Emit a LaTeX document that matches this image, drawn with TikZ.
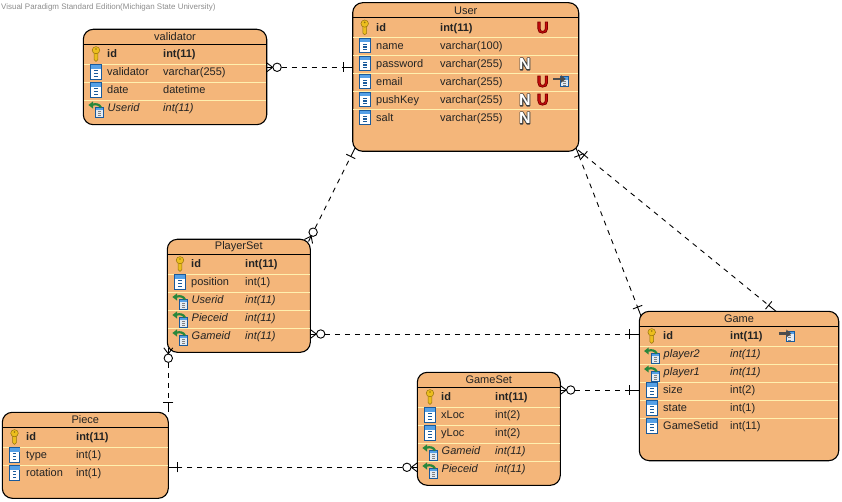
\documentclass[tikz,border=0pt]{standalone}
\usepackage{fontspec}
\setmainfont{Liberation Sans}
\usetikzlibrary{calc}
\definecolor{entfill}{RGB}{244,182,122}
\definecolor{rowline}{RGB}{255,240,175}
\definecolor{txt}{RGB}{35,35,35}
\definecolor{colblue}{RGB}{26,90,155}
\definecolor{colband}{RGB}{85,160,230}
\definecolor{keygold}{RGB}{236,190,30}
\definecolor{keyedge}{RGB}{150,115,15}
\definecolor{fkgreen}{RGB}{40,135,60}
\tikzset{
  x=1pt,y=-1pt,
  entity/.style={draw=black,fill=entfill,line width=1.1pt,rounded corners=10pt,inner sep=0pt,outer sep=0pt,anchor=north west},
  title/.style={inner sep=0pt,text=txt,font=\fontsize{11}{12}\selectfont},
  cell/.style={inner sep=0pt,anchor=base west,text=txt,font=\fontsize{11}{12}\selectfont},
  badge/.style={inner sep=0pt,font=\fontsize{16}{17}\selectfont\bfseries},
  dashline/.style={draw=black,line width=.9pt,dash pattern=on 5pt off 5pt},
  rel/.style={draw=black,line width=.9pt},
}
% entity box: name, x1, y1, x2, y2, title, number of dividers
\newcommand\entitybox[7]{%
  \path let \n1={#4-#2},\n2={#5-#3} in node[entity,minimum width=\n1 pt,minimum height=\n2 pt] (#1) at (#2,#3) {};
  \node[title] (#1Title) at ($(#1.north)+(0,7.6)$) {#6};
  \draw[black,line width=1pt] ($(#1.north west)+(0,15)$) -- ($(#1.north east)+(0,15)$);
  \foreach \k in {1,...,#7}{\draw[rowline,line width=1pt] ($(#1.north west)+(.6,{35+18*(\k-1)})$) -- ($(#1.north east)+(-.6,{35+18*(\k-1)})$);}
}
\newcommand\keyicon[2]{\begin{scope}[shift={(#1,#2)}]
  \fill[keygold,draw=keyedge,line width=.5pt] (-1.8,-2) -- (-1.8,5.8) -- (0,7.4) -- (1.8,5.8) -- (1.8,-2) -- cycle;
  \fill[keygold,draw=keyedge,line width=.5pt] (0,-3.8) ellipse[x radius=3.8pt,y radius=3.6pt];
  \fill[keyedge] (0,-5) circle[radius=.9pt];
\end{scope}}
\newcommand\colicon[2]{\begin{scope}[shift={(#1,#2)}]
  \fill[white,draw=colblue,line width=1pt] (-5.4,-7.2) rectangle (5.4,7.2);
  \fill[colband] (-5,-6.8) rectangle (5,-3);
  \foreach \q in {-1.2,1.6,4.4}{\fill[colblue] (-1.8,\q-.6) rectangle (1.8,\q+.6);}
\end{scope}}
\newcommand\minitable[2]{\begin{scope}[shift={(#1,#2)}]
  \fill[white!88!colblue] (-4,-5) rectangle (4,5);
  \fill[colband] (-4,-5) rectangle (4,-2);
  \draw[colblue,line width=.5pt] (-4,-5) rectangle (4,5);
  \foreach \q in {-.5,1.7,3.9}{\fill[gray] (-1.6,\q-.5) rectangle (1.6,\q+.5);}
\end{scope}}
\newcommand\fkicon[2]{\begin{scope}[shift={(#1,#2)}]
  \minitable{3.5}{3.8}
  \draw[fkgreen,line width=2.2pt] (-3.5,-3.3) .. controls (0,-4.4) and (3.5,-3.7) .. (5,-.4);
  \fill[fkgreen] (-7.6,-3) -- (-3,-6.6) -- (-3,.6) -- cycle;
\end{scope}}
\newcommand\refarrow[2]{\begin{scope}[shift={(#1,#2)}]
  \minitable{1.5}{.2}
  \draw[black!70,line width=2.6pt] (-9.5,-2.4) -- (-1,-2.4);
  \fill[black!70] (3,-2.4) -- (-2,-6.4) -- (-2,1.6) -- cycle;
\end{scope}}
\newcommand\pkrow[7]{\keyicon{#2}{#5}\node[cell,font=\fontsize{11}{12}\selectfont\bfseries] (#1n) at (#3,#5+3.9) {#6};\node[cell,font=\fontsize{11}{12}\selectfont\bfseries] (#1t) at (#4,#5+3.9) {#7};}
\newcommand\colrow[7]{\colicon{#2}{#5}\node[cell] (#1n) at (#3,#5+3.9) {#6};\node[cell] (#1t) at (#4,#5+3.9) {#7};}
\newcommand\fkrow[7]{\fkicon{#2}{#5}\node[cell,font=\fontsize{11}{12}\selectfont\itshape] (#1n) at (#3,#5+3.9) {#6};\node[cell,font=\fontsize{11}{12}\selectfont\itshape] (#1t) at (#4,#5+3.9) {#7};}
\newcommand\badgeN[3]{%
  \begin{scope}[shift={(#2,#3)}]
    \draw[black!75,fill=white,line width=1.7pt,line join=round,shift={(-5.72,5.73)},xscale=16,yscale=-16]
      (.073,0) -- (.073,.716) -- (.214,.716) -- (.507,.238) -- (.507,.716) -- (.642,.716) -- (.642,0) -- (.496,0) -- (.208,.467) -- (.208,0) -- cycle;
    \node[badge,text=white,anchor=base] (#1) at (0,5.73) {N};
  \end{scope}}
\newcommand\badgeU[3]{\node[badge] (#1) at (#2,#3) {\special{pdf:code q 2 Tr .8 w .5 0 0 RG .8 .05 .05 rg}U\special{pdf:code Q}};}
\newcommand\footbar[2]{% bar across the line at #1 going towards #2
  \draw[rel] ($(#1)!5pt!90:(#2)$) -- ($(#1)!5pt!-90:(#2)$);}
\newcommand\crowbar[2]{%
  \coordinate (cT) at ($(#1)!6pt!(#2)$);
  \coordinate (cC) at ($(#1)!10.4pt!(#2)$);
  \coordinate (cD) at ($(#1)!15pt!(#2)$);
  \coordinate (cB) at ($(#2)!9.5pt!(#1)$);
  \draw[dashline] (cD) -- (cB);
  \draw[rel] (#1) -- (cT);
  \draw[rel] (cB) -- (#2);
  \draw[rel] ($(#1)!4.5pt!90:(#2)$) -- (cT) -- ($(#1)!4.5pt!-90:(#2)$);
  \footbar{cB}{#2}
  \draw[rel,fill=white] (cC) circle[radius=4.2pt];
}
\newcommand\barbar[2]{%
  \coordinate (cA) at ($(#1)!8pt!(#2)$);
  \coordinate (cB) at ($(#2)!9.5pt!(#1)$);
  \draw[dashline] (cA) -- (cB);
  \draw[rel] (#1) -- (cA);
  \draw[rel] (cB) -- (#2);
  \footbar{cA}{#2}
  \footbar{cB}{#2}
}
\begin{document}
\begin{tikzpicture}
\useasboundingbox (0,0) rectangle (842,502);
\node[inner sep=0pt,anchor=base west,text=black!45,font=\fontsize{7.97}{9}\selectfont] (wm) at (1,9.5) {Visual Paradigm Standard Edition(Michigan State University)};

\entitybox{User}{352.7}{2.7}{578.7}{151.3}{User}{5}
\pkrow{u1}{364.7}{376}{440}{27.4}{id}{int(11)}
\colrow{u2}{365}{376}{440}{45.4}{name}{varchar(100)}
\colrow{u3}{365}{376}{440}{63.4}{password}{varchar(255)}
\colrow{u4}{365}{376}{440}{81.4}{email}{varchar(255)}
\colrow{u5}{365}{376}{440}{99.4}{pushKey}{varchar(255)}
\colrow{u6}{365}{376}{440}{117.4}{salt}{varchar(255)}
\badgeU{uU1}{542.7}{27.6}
\badgeN{uN3}{525}{64}
\badgeU{uU4}{542.7}{81.6}
\refarrow{562.8}{81.4}
\badgeN{uN5}{525}{100}
\badgeU{uU5}{542.7}{99.6}
\badgeN{uN6}{525}{118}

\entitybox{validator}{83.3}{29.3}{266.7}{124.7}{validator}{3}
\pkrow{v1}{96}{107}{163}{54}{id}{int(11)}
\colrow{v2}{96}{107}{163}{72}{validator}{varchar(255)}
\colrow{v3}{96}{107}{163}{90}{date}{datetime}
\fkrow{v4}{96}{107.5}{163}{108}{Userid}{int(11)}

\entitybox{PlayerSet}{167.3}{239.3}{310.3}{352.3}{PlayerSet}{4}
\pkrow{p1}{180}{191}{245}{264}{id}{int(11)}
\colrow{p2}{180}{191}{245}{282}{position}{int(1)}
\fkrow{p3}{180}{191.5}{245}{300}{Userid}{int(11)}
\fkrow{p4}{180}{191.5}{245}{318}{Pieceid}{int(11)}
\fkrow{p5}{180}{191.5}{245}{336}{Gameid}{int(11)}

\entitybox{Game}{639.3}{311.3}{838.7}{460.7}{Game}{5}
\pkrow{g1}{651.7}{663}{730}{336}{id}{int(11)}
\fkrow{g2}{651.7}{663.5}{730}{354}{player2}{int(11)}
\fkrow{g3}{651.7}{663.5}{730}{372}{player1}{int(11)}
\colrow{g4}{651.7}{663}{730}{390}{size}{int(2)}
\colrow{g5}{651.7}{663}{730}{408}{state}{int(1)}
\colrow{g6}{651.7}{663}{730}{426}{GameSetid}{int(11)}
\refarrow{788.3}{336}

\entitybox{GameSet}{417.3}{372.3}{560.3}{485.3}{GameSet}{4}
\pkrow{s1}{430}{441}{495}{397}{id}{int(11)}
\colrow{s2}{430}{441}{495}{415}{xLoc}{int(2)}
\colrow{s3}{430}{441}{495}{433}{yLoc}{int(2)}
\fkrow{s4}{430}{441.5}{495}{451}{Gameid}{int(11)}
\fkrow{s5}{430}{441.5}{495}{469}{Pieceid}{int(11)}

\entitybox{Piece}{2.3}{412.3}{168.3}{498.3}{Piece}{2}
\pkrow{c1}{14.5}{26}{76}{437}{id}{int(11)}
\colrow{c2}{14.5}{26}{76}{455}{type}{int(1)}
\colrow{c3}{14.5}{26}{76}{473}{rotation}{int(1)}

% connector ends, taken from the entities
\coordinate (vE) at ($(validator.north east)+(0,38)$);
\coordinate (uW) at ($(User.north west)+(0,64.6)$);
\coordinate (uSW) at ($(User.south west)+(2.3,-3.3)$);
\coordinate (pNE) at ($(PlayerSet.north east)+(-1.8,2.2)$);
\coordinate (uSE1) at ($(User.south east)+(-2.7,-3.3)$);
\coordinate (uSE2) at ($(User.south east)+(-.7,-1.3)$);
\coordinate (gNW) at ($(Game.north west)+(1.7,4.7)$);
\coordinate (gN) at ($(Game.north west)+(136.7,0)$);
\coordinate (pE) at ($(PlayerSet.north east)+(0,94.7)$);
\coordinate (gW1) at ($(Game.north west)+(0,22.7)$);
\coordinate (sE) at ($(GameSet.north east)+(0,17.7)$);
\coordinate (gW2) at ($(Game.north west)+(0,78.7)$);
\coordinate (pS) at ($(PlayerSet.south west)+(1,-4.5)$);
\coordinate (cN) at (Piece.north east);
\coordinate (cE) at ($(Piece.north east)+(0,55)$);
\coordinate (sW) at ($(GameSet.north west)+(0,95)$);

\crowbar{vE}{uW}
\crowbar{pNE}{uSW}
\barbar{uSE1}{gNW}
\barbar{uSE2}{gN}
\crowbar{pE}{gW1}
\crowbar{sE}{gW2}
\crowbar{pS}{cN}
\crowbar{sW}{cE}
\end{tikzpicture}
\end{document}
